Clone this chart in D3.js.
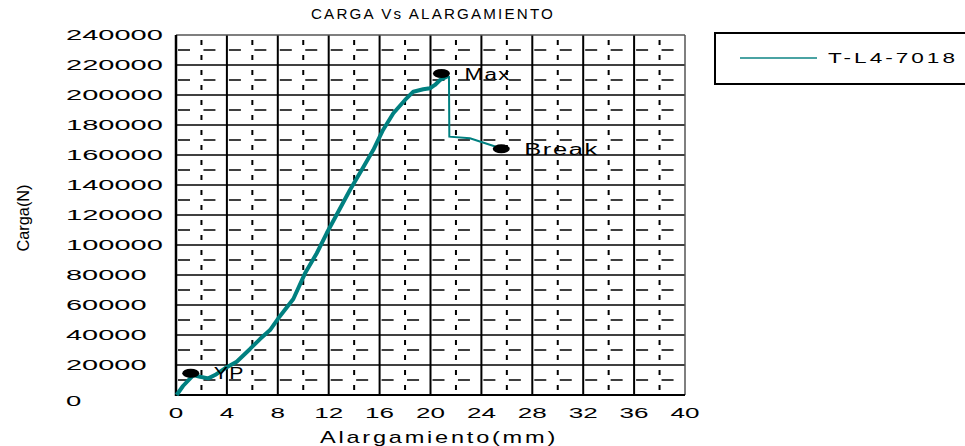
<!DOCTYPE html>
<html><head><meta charset="utf-8">
<script src="https://cdn.jsdelivr.net/npm/d3@7"></script>
<style>body{margin:0;background:#fff;overflow:hidden;} text{font-family:"Liberation Sans",Arial,sans-serif;fill:#000;}</style>
</head><body><svg id="c" width="965" height="446"></svg>
<script>
// ---- data ----
const elongation = [0.05,0.55,1.36,1.89,2.54,3.06,3.85,4.77,5.82,6.6,7.39,8.04,9.22,10.14,11.06,11.84,12.75,13.67,14.59,15.5,16.27,17.08,18.0,18.65,19.43,19.96,20.35,20.75,21.27,21.45];
const load = [0,6000,13300,12200,11100,13300,17800,22200,30700,37300,43300,51100,64000,81100,94500,107800,122200,136700,150000,163300,176700,187800,196700,202200,203800,204500,206700,210000,212200,212700];
const breakElongation = [21.45,21.48,23.1,25.93];
const breakLoad = [212700,172200,171100,163300];
const markerNames = ["YP","Max","Break"];
const markerElong = [1.16,20.86,25.56];
const markerLoad = [14500,214300,164100];
const xTicks = [0,4,8,12,16,20,24,28,32,36,40];
const yTicks = [0,20000,40000,60000,80000,100000,120000,140000,160000,180000,200000,220000,240000];
const seriesName = "T-L4-7018";
const chartTitle = "CARGA Vs ALARGAMIENTO";
const xTitle = "Alargamiento(mm)";
const yTitle = "Carga(N)";

const svg = d3.select("#c");
const x = d3.scaleLinear().domain([0,40]).range([176,685]);
const y = d3.scaleLinear().domain([0,240000]).range([395,35]);
const teal = "#008080";

// minor dashed grid
const minorX = d3.range(2,40,4);
const minorY = d3.range(10000,240000,20000);
svg.append("g").selectAll("line").data(minorX).join("line")
  .attr("x1",d=>x(d)).attr("x2",d=>x(d)).attr("y1",y(240000)).attr("y2",y(0))
  .attr("stroke","#000").attr("stroke-width",2).attr("stroke-dasharray","0,5,5,5");
svg.append("g").selectAll("line").data(minorY).join("line")
  .attr("x1",x(0)).attr("x2",x(40)).attr("y1",d=>y(d)).attr("y2",d=>y(d))
  .attr("stroke","#000").attr("stroke-width",1.5).attr("stroke-dasharray","0,2,12,11.45");

// major grid
svg.append("g").selectAll("line").data(xTicks.slice(1,-1)).join("line")
  .attr("x1",d=>x(d)).attr("x2",d=>x(d)).attr("y1",y(240000)).attr("y2",y(0))
  .attr("stroke","#000").attr("stroke-width",2);
svg.append("g").selectAll("line").data(yTicks.slice(1,-1)).join("line")
  .attr("x1",x(0)).attr("x2",x(40)).attr("y1",d=>y(d)).attr("y2",d=>y(d))
  .attr("stroke","#000").attr("stroke-width",1.5);
// frame
svg.append("line").attr("x1",x(0)).attr("x2",x(40)).attr("y1",y(240000)).attr("y2",y(240000)).attr("stroke","#555").attr("stroke-width",1.5);
svg.append("line").attr("x1",x(40)).attr("x2",x(40)).attr("y1",y(240000)).attr("y2",y(0)).attr("stroke","#555").attr("stroke-width",1.5);
svg.append("line").attr("x1",x(0)).attr("x2",x(0)).attr("y1",y(240000)).attr("y2",y(0)+1).attr("stroke","#000").attr("stroke-width",2.5);
svg.append("line").attr("x1",x(0)-1).attr("x2",x(40)).attr("y1",y(0)).attr("y2",y(0)).attr("stroke","#000").attr("stroke-width",2);

// series
const line = d3.line().x(d=>x(d[0])).y(d=>y(d[1]));
svg.append("path").datum(breakElongation.map((v,i)=>[v,breakLoad[i]]))
  .attr("d",line).attr("fill","none").attr("stroke",teal).attr("stroke-width",2);
svg.append("path").datum(elongation.map((v,i)=>[v,load[i]]))
  .attr("d",line).attr("fill","none").attr("stroke",teal).attr("stroke-width",4).attr("stroke-linejoin","round");

// markers
const mk = svg.append("g");
markerNames.forEach((n,i)=>{
  mk.append("ellipse").attr("cx",x(markerElong[i])).attr("cy",y(markerLoad[i])).attr("rx",8.5).attr("ry",4.5).attr("fill","#000");
  mk.append("text").attr("x",x(markerElong[i])+23).attr("y",y(markerLoad[i])+6)
    .attr("font-size",16).style("letter-spacing","1px")
    .attr("textLength",n.length*15.5+(n.length>3?-3:0)).attr("lengthAdjust","spacingAndGlyphs").text(n);
});

// axis labels
svg.append("g").selectAll("text").data(xTicks).join("text")
  .attr("x",d=>x(d)).attr("y",418).attr("text-anchor","middle").attr("font-size",14)
  .attr("textLength",d=>String(d).length*14.5).attr("lengthAdjust","spacingAndGlyphs").text(d=>d);
svg.append("g").selectAll("text").data(yTicks).join("text")
  .attr("x",66).attr("y",d=>y(d)+(d===0?11:5)).attr("font-size",14)
  .attr("textLength",d=>String(d).length*16.3-1).attr("lengthAdjust","spacingAndGlyphs").text(d=>d);

// titles
svg.append("text").attr("x",311).attr("y",19).attr("font-size",14).style("letter-spacing","2px")
  .attr("textLength",244).attr("lengthAdjust","spacingAndGlyphs").text(chartTitle);
svg.append("text").attr("x",320).attr("y",443).attr("font-size",17).style("letter-spacing","2px")
  .attr("textLength",238).attr("lengthAdjust","spacingAndGlyphs").text(xTitle);
svg.append("text").attr("transform","translate(29,218) rotate(-90)").attr("text-anchor","middle")
  .attr("font-size",17).attr("textLength",67).attr("lengthAdjust","spacingAndGlyphs").text(yTitle);

// legend
svg.append("rect").attr("x",715).attr("y",33).attr("width",270).attr("height",51)
  .attr("fill","#fff").attr("stroke","#000").attr("stroke-width",2);
svg.append("line").attr("x1",740).attr("x2",817).attr("y1",58).attr("y2",58)
  .attr("stroke","#4aa3a3").attr("stroke-width",2);
svg.append("text").attr("x",828).attr("y",63).attr("font-size",15).style("letter-spacing","2px")
  .attr("textLength",130).attr("lengthAdjust","spacingAndGlyphs").text(seriesName);
</script></body></html>
